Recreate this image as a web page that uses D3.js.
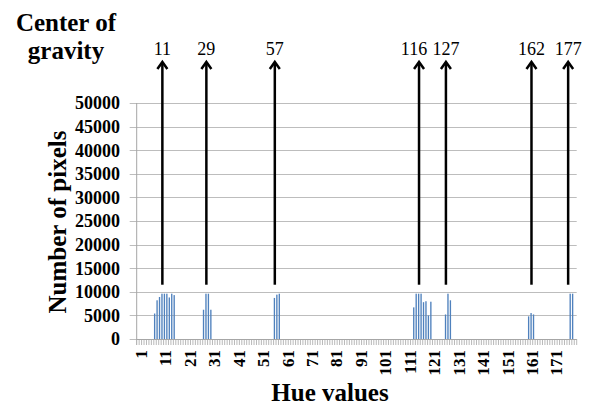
<!DOCTYPE html>
<html>
<head>
<meta charset="utf-8">
<script src="https://cdn.jsdelivr.net/npm/d3@7"></script>
<style>
  body { margin: 0; background: #fff; }
  text { font-family: 'Liberation Serif', Tinos, 'Times New Roman', 'DejaVu Serif', serif; }
</style>
</head>
<body>
<div id="chart"></div>
<script>
// hue categories 1..180, labelled every 10
const hueCategories = d3.range(1, 181);
const hueTickLabels = [1, 11, 21, 31, 41, 51, 61, 71, 81, 91, 101, 111, 121, 131, 141, 151, 161, 171];

// non-zero histogram bins (all other hues are 0)
const barHues   = [8, 9, 10, 11, 12, 13, 14, 15, 16,
                   28, 29, 30, 31,
                   57, 58, 59,
                   114, 115, 116, 117, 118, 119, 120, 121,
                   127, 128, 129,
                   161, 162, 163,
                   178, 179];
const barCounts = [5400, 8200, 8900, 9600, 9600, 9600, 8800, 9600, 9300,
                   6200, 9600, 9600, 6200,
                   8700, 9400, 9600,
                   6700, 9600, 9600, 9600, 7800, 8000, 5000, 7900,
                   5200, 9600, 8200,
                   4800, 5500, 5200,
                   9600, 9600];

const yTicks = d3.range(0, 50001, 5000);

// centre of gravity markers
const cogHues = [11, 29, 57, 116, 127, 162, 177];
const cogArrowBase = 11500;

const width = 594, height = 409;
const plot = { left: 136.7, right: 576.7, top: 103, bottom: 339 };

const svg = d3.select("#chart").append("svg")
  .attr("width", width)
  .attr("height", height)
  .attr("font-family", "'Liberation Serif', serif");

const x = d3.scaleBand()
  .domain(hueCategories)
  .range([plot.left, plot.right]);

const y = d3.scaleLinear()
  .domain([0, 50000])
  .range([plot.bottom, plot.top]);

// gridlines + y ticks
svg.append("g")
  .selectAll("line")
  .data(yTicks)
  .enter().append("line")
  .attr("x1", plot.left - 7)
  .attr("x2", plot.right)
  .attr("y1", d => Math.round(y(d)) + 0.5)
  .attr("y2", d => Math.round(y(d)) + 0.5)
  .attr("stroke", "#bdbdbd")
  .attr("stroke-width", 1);

svg.append("g")
  .selectAll("text")
  .data(yTicks)
  .enter().append("text")
  .attr("x", 120)
  .attr("y", d => y(d))
  .attr("dy", "0.35em")
  .attr("text-anchor", "end")
  .attr("font-size", 18)
  .attr("font-weight", "bold")
  .text(d => d);

// y axis line
svg.append("line")
  .attr("x1", plot.left).attr("x2", plot.left)
  .attr("y1", plot.top).attr("y2", plot.bottom + 6)
  .attr("stroke", "#a6a6a6");

// x axis minor ticks at every category
svg.append("g")
  .selectAll("line")
  .data(hueCategories)
  .enter().append("line")
  .attr("x1", d => x(d) + x.bandwidth())
  .attr("x2", d => x(d) + x.bandwidth())
  .attr("y1", plot.bottom)
  .attr("y2", plot.bottom + 6)
  .attr("stroke", "#a6a6a6")
  .attr("stroke-width", 0.8);

svg.append("line")
  .attr("x1", plot.left).attr("x2", plot.right)
  .attr("y1", plot.bottom + 0.5).attr("y2", plot.bottom + 0.5)
  .attr("stroke", "#a6a6a6");

// bars
const bars = barHues.map((h, i) => ({ hue: h, count: barCounts[i] }));
const barW = x.bandwidth() * 0.55;
svg.append("g")
  .selectAll("rect")
  .data(bars)
  .enter().append("rect")
  .attr("x", d => x(d.hue) + (x.bandwidth() - barW) / 2 - 0.4)
  .attr("width", barW)
  .attr("y", d => y(d.count))
  .attr("height", d => y(0) - y(d.count))
  .attr("fill", "#4F81BD");

// x tick labels (rotated)
svg.append("g")
  .selectAll("text")
  .data(hueTickLabels)
  .enter().append("text")
  .attr("transform", d => "translate(" + (x(d) + x.bandwidth() / 2 + 3) + "," + 350 + ") rotate(-90)")
  .attr("dy", "0.35em")
  .attr("text-anchor", "end")
  .attr("font-size", 17)
  .attr("font-weight", "bold")
  .text(d => d);

// axis titles
svg.append("text")
  .attr("x", 330)
  .attr("y", 401)
  .attr("text-anchor", "middle")
  .attr("font-size", 25)
  .attr("font-weight", "bold")
  .text("Hue values");

svg.append("text")
  .attr("transform", "translate(66,222) rotate(-90)")
  .attr("text-anchor", "middle")
  .attr("font-size", 25)
  .attr("font-weight", "bold")
  .text("Number of pixels");

const cogTitle = svg.append("text")
  .attr("text-anchor", "middle")
  .attr("font-size", 25)
  .attr("font-weight", "bold");
cogTitle.append("tspan").attr("x", 66).attr("y", 31).text("Center of");
cogTitle.append("tspan").attr("x", 66).attr("y", 59).text("gravity");

// arrows for centre of gravity
const arrows = svg.append("g");
cogHues.forEach(h => {
  const cx = x(h) + x.bandwidth() / 2;
  const tip = 62;
  arrows.append("line")
    .attr("x1", cx).attr("x2", cx)
    .attr("y1", y(cogArrowBase)).attr("y2", tip + 1)
    .attr("stroke", "#000")
    .attr("stroke-width", 2.5);
  arrows.append("path")
    .attr("d", "M" + (cx - 5) + "," + (tip + 7) + " L" + cx + "," + tip + " L" + (cx + 5) + "," + (tip + 7))
    .attr("fill", "none")
    .attr("stroke", "#000")
    .attr("stroke-width", 2.5);
  arrows.append("text")
    .attr("x", h === 116 ? cx - 5 : cx)
    .attr("y", 55)
    .attr("text-anchor", "middle")
    .attr("font-size", 18)
    .text(h);
});
</script>
</body>
</html>
